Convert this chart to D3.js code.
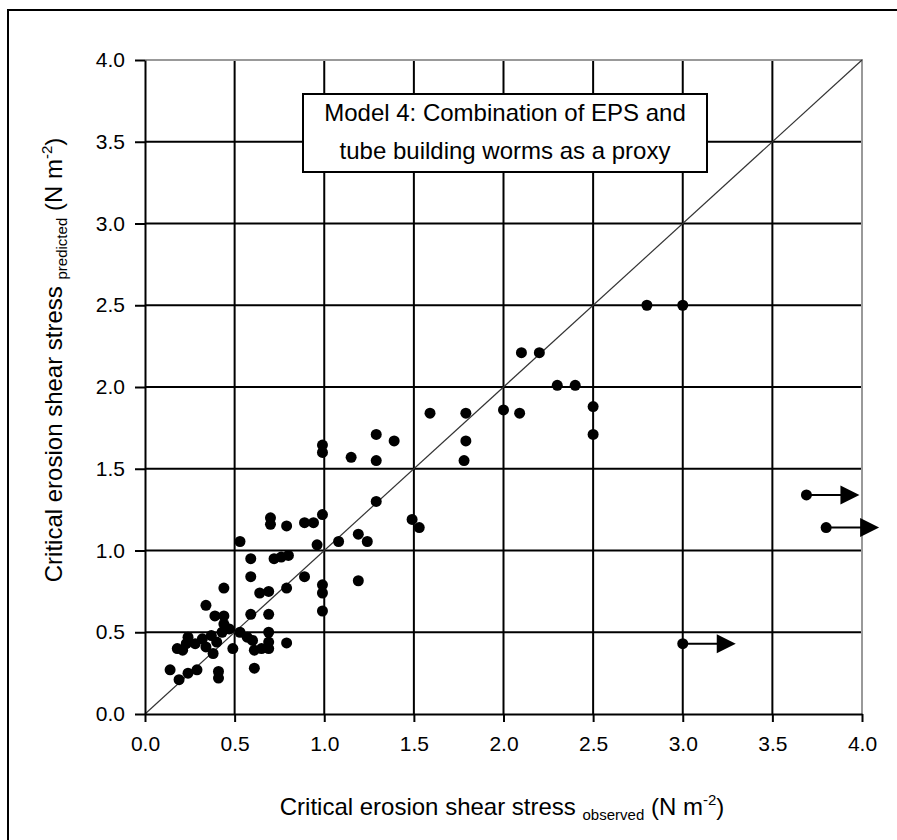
<!DOCTYPE html>
<html lang="en">
<head>
  <meta charset="UTF-8">
  <script src="https://d3js.org/d3.v7.min.js"></script>
  <title>Model 4 scatter</title>
  <style>
    body { margin: 0; background: #fff; }
    text { font-family: "Liberation Sans", Arial, sans-serif; fill: #000; }
  </style>
</head>
<body>
  <svg width="897" height="840"></svg>
  <script>
    // tick values (both axes)
    const ticks = [0, 0.5, 1.0, 1.5, 2.0, 2.5, 3.0, 3.5, 4.0];

    // observed vs predicted critical erosion shear stress (N m-2)
    const observed = [
      0.14, 0.19, 0.24, 0.29, 0.41, 0.41, 0.61,
      0.18, 0.21, 0.24, 0.23, 0.28, 0.32, 0.34, 0.37, 0.38, 0.43, 0.40,
      0.47, 0.53, 0.57, 0.49, 0.60, 0.61, 0.65, 0.69, 0.69, 0.69, 0.79,
      0.39, 0.44, 0.59, 0.69, 0.44, 0.34,
      0.44, 0.64, 0.69, 0.79,
      0.59, 0.89,
      0.59, 0.72, 0.76, 0.80,
      0.53, 0.96, 1.08, 1.19, 1.24, 1.19,
      0.99, 0.99, 0.99,
      0.99, 0.89, 0.94, 0.79, 0.70, 0.70,
      1.29, 1.49, 1.53,
      0.99, 0.99, 1.15, 1.29, 1.29, 1.39,
      1.59, 1.79, 1.79, 1.78,
      2.0, 2.09, 2.1, 2.2, 2.3, 2.4, 2.5, 2.5,
      2.8, 3.0
    ];
    const predicted = [
      0.27, 0.21, 0.25, 0.27, 0.26, 0.22, 0.28,
      0.40, 0.39, 0.47, 0.43, 0.43, 0.46, 0.41, 0.48, 0.37, 0.50, 0.44,
      0.52, 0.50, 0.47, 0.40, 0.45, 0.39, 0.40, 0.40, 0.44, 0.50, 0.435,
      0.60, 0.60, 0.61, 0.61, 0.55, 0.665,
      0.77, 0.74, 0.75, 0.77,
      0.84, 0.84,
      0.95, 0.95, 0.96, 0.97,
      1.055, 1.035, 1.055, 1.10, 1.055, 0.815,
      0.79, 0.74, 0.63,
      1.22, 1.17, 1.17, 1.15, 1.20, 1.16,
      1.30, 1.19, 1.14,
      1.645, 1.60, 1.57, 1.55, 1.71, 1.67,
      1.84, 1.84, 1.67, 1.55,
      1.86, 1.84, 2.21, 2.21, 2.01, 2.01, 1.88, 1.71,
      2.5, 2.5
    ];

    // points whose observed value is a lower bound (drawn with an arrow)
    const arrowObserved = [3.0, 3.69, 3.8];
    const arrowPredicted = [0.43, 1.34, 1.14];

    const annotation = ["Model 4: Combination of EPS and", "tube building worms as a proxy"];

    const svg = d3.select("svg");

    // outer frame (right and bottom edges fall outside the picture)
    svg.append("rect")
      .attr("x", 8).attr("y", 10)
      .attr("width", 1000).attr("height", 1000)
      .attr("fill", "none").attr("stroke", "#000").attr("stroke-width", 2);

    const xScale = d3.scaleLinear().domain([0, 4]).range([145, 862]);
    const yScale = d3.scaleLinear().domain([0, 4]).range([714, 60]);

    // grid
    const inner = ticks.slice(1, -1);
    svg.append("g").selectAll("line").data(inner).join("line")
      .attr("x1", d => xScale(d)).attr("x2", d => xScale(d))
      .attr("y1", yScale(0)).attr("y2", yScale(4))
      .attr("stroke", "#000").attr("stroke-width", 2);
    svg.append("g").selectAll("line").data(inner).join("line")
      .attr("x1", xScale(0)).attr("x2", xScale(4))
      .attr("y1", d => yScale(d)).attr("y2", d => yScale(d))
      .attr("stroke", "#000").attr("stroke-width", 2);

    // top / right border in grey
    svg.append("path")
      .attr("d", `M${xScale(0)},${yScale(4)}H${xScale(4)}V${yScale(0)}`)
      .attr("fill", "none").attr("stroke", "#999").attr("stroke-width", 2);

    // 1:1 line
    svg.append("line")
      .attr("x1", xScale(0)).attr("y1", yScale(0))
      .attr("x2", xScale(4)).attr("y2", yScale(4))
      .attr("stroke", "#333").attr("stroke-width", 1.2);

    // axes
    const xAxis = d3.axisBottom(xScale).tickValues(ticks).tickFormat(d3.format(".1f"))
      .tickSizeInner(8).tickSizeOuter(0).tickPadding(14);
    const xg = svg.append("g").attr("transform", `translate(0,${yScale(0)})`).call(xAxis);
    const yAxis = d3.axisLeft(yScale).tickValues(ticks).tickFormat(d3.format(".1f"))
      .tickSizeInner(10).tickSizeOuter(0).tickPadding(10);
    const yg = svg.append("g").attr("transform", `translate(${xScale(0)},0)`).call(yAxis);
    [xg, yg].forEach(g => {
      g.select(".domain").attr("stroke", "#000").attr("stroke-width", 2);
      g.selectAll(".tick line").attr("stroke", "#000").attr("stroke-width", 2);
      g.selectAll(".tick text").style("font-size", "21px")
        .style("font-family", '"Liberation Sans", Arial, sans-serif');
    });

    // annotation box
    const box = svg.append("g");
    box.append("rect")
      .attr("x", 303).attr("y", 94).attr("width", 404).attr("height", 78)
      .attr("fill", "#fff").attr("stroke", "#000").attr("stroke-width", 2);
    box.selectAll("text").data(annotation).join("text")
      .attr("x", 505).attr("y", (d, i) => 121 + i * 38)
      .attr("text-anchor", "middle")
      .style("font-size", "24px")
      .text(d => d);

    // scatter points
    const pts = observed.map((x, i) => ({ x, y: predicted[i] }));
    svg.append("g").selectAll("circle").data(pts).join("circle")
      .attr("cx", d => xScale(d.x)).attr("cy", d => yScale(d.y))
      .attr("r", 5.5).attr("fill", "#000");

    // lower-bound points with arrows
    const arrowPts = arrowObserved.map((x, i) => ({ x, y: arrowPredicted[i] }));
    const ag = svg.append("g").selectAll("g").data(arrowPts).join("g")
      .attr("transform", d => `translate(${xScale(d.x)},${yScale(d.y)})`);
    ag.append("circle").attr("r", 5.5).attr("fill", "#000");
    ag.append("line").attr("x1", 0).attr("x2", 36).attr("y1", 0).attr("y2", 0)
      .attr("stroke", "#000").attr("stroke-width", 2);
    ag.append("path").attr("d", "M34,-9.5L53,0L34,9.5Z").attr("fill", "#000");

    // axis titles
    const xt = svg.append("text")
      .attr("x", 502).attr("y", 815)
      .attr("text-anchor", "middle")
      .style("font-size", "24px");
    xt.append("tspan").text("Critical erosion shear stress ");
    xt.append("tspan").text("observed").style("font-size", "15px").attr("dy", 5);
    xt.append("tspan").text(" (N m").attr("dy", -5);
    xt.append("tspan").text("-2").style("font-size", "15px").attr("dy", -10);
    xt.append("tspan").text(")").attr("dy", 10);

    const yt = svg.append("text")
      .attr("transform", "translate(62,360) rotate(-90)")
      .attr("text-anchor", "middle")
      .style("font-size", "24px");
    yt.append("tspan").text("Critical erosion shear stress ");
    yt.append("tspan").text("predicted").style("font-size", "15px").attr("dy", 5);
    yt.append("tspan").text(" (N m").attr("dy", -5);
    yt.append("tspan").text("-2").style("font-size", "15px").attr("dy", -10);
    yt.append("tspan").text(")").attr("dy", 10);
  </script>
</body>
</html>
